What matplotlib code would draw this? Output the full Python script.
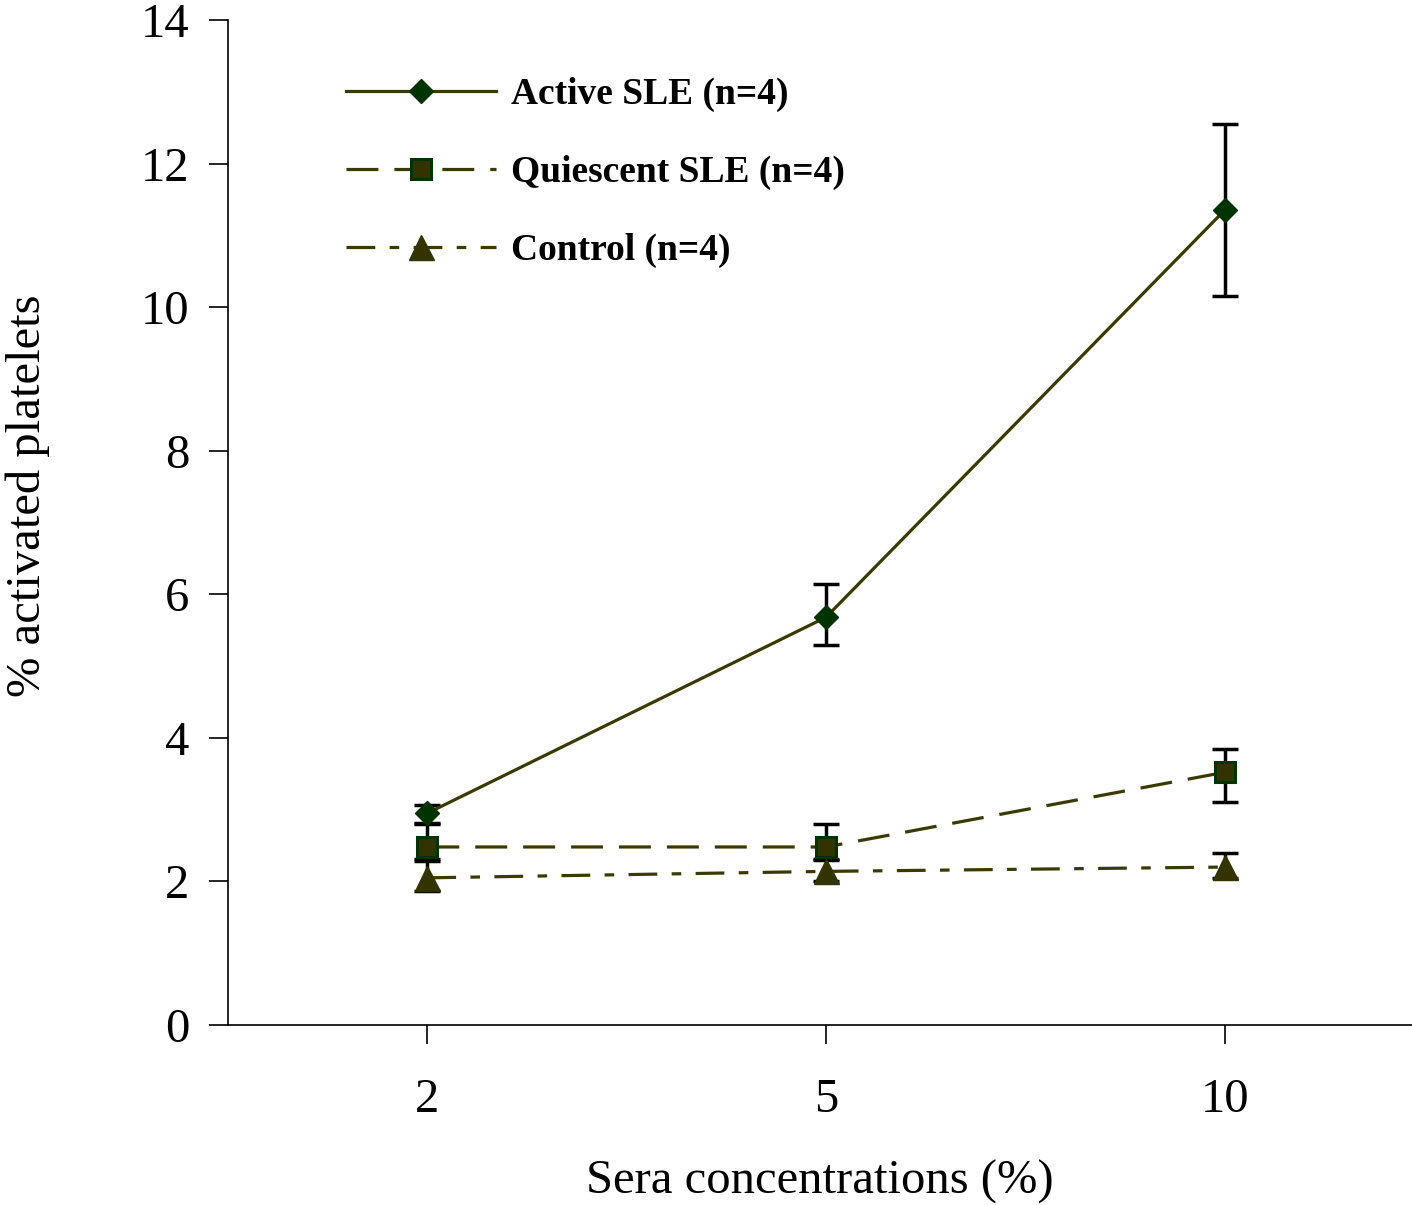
#importacion de librerias

import matplotlib.pyplot as plt
from matplotlib.lines import Line2D

#Datos

concentraciones = ["2", "5", "10"]
posiciones = [1, 2, 3]

activo = [2.95, 5.68, 11.35]
activo_err_inf = [0.13, 0.39, 1.2]
activo_err_sup = [0.12, 0.46, 1.2]

quiescente = [2.48, 2.48, 3.52]
quiescente_err_inf = [0.17, 0.17, 0.41]
quiescente_err_sup = [0.32, 0.32, 0.32]

control = [2.05, 2.14, 2.2]
control_err_inf = [0.18, 0.14, 0.15]
control_err_sup = [0.24, 0.16, 0.2]

etiquetas = ["Active SLE (n=4)", "Quiescent SLE (n=4)", "Control (n=4)"]

#Colores y estilos

color_linea = "#3a3a00"
verde = "#003300"
oliva = "#333300"

plt.rcParams['font.family'] = ['Liberation Serif', 'DejaVu Serif']

fig = plt.figure(figsize=(14.12, 12.05), dpi=100)
ax = fig.add_axes([228 / 1412, 180 / 1205, 1 - 228 / 1412, 1005 / 1205])

#Barras de error (debajo de los marcadores)
ax.errorbar(posiciones, activo, yerr=[activo_err_inf, activo_err_sup], fmt='none',
            ecolor='black', elinewidth=2.5, capsize=9.5, capthick=2.5, zorder=2)
ax.errorbar(posiciones, quiescente, yerr=[quiescente_err_inf, quiescente_err_sup], fmt='none',
            ecolor='black', elinewidth=2.5, capsize=9.5, capthick=2.5, zorder=2)
ax.errorbar(posiciones, control, yerr=[control_err_inf, control_err_sup], fmt='none',
            ecolor='black', elinewidth=2.5, capsize=9.5, capthick=2.5, zorder=2)

#Lineas con marcadores
ax.plot(posiciones, activo, color=color_linea, linewidth=2.3, marker='D', markersize=12,
        markerfacecolor=verde, markeredgecolor=verde, zorder=3)
ax.plot(posiciones, quiescente, color=color_linea, linewidth=2.3, dashes=(10, 5), marker='s',
        markersize=15, markerfacecolor=oliva, markeredgecolor=verde, markeredgewidth=2.2, zorder=3)
ax.plot(posiciones, control, color=color_linea, linewidth=2.3, dashes=(9, 4.5, 3, 4.5), marker='^',
        markersize=18, markerfacecolor=oliva, markeredgecolor=oliva, zorder=3)

#Ejes
ax.set_xlim(0.5, 3.47)
ax.set_ylim(0, 14)
ax.set_yticks(range(0, 15, 2))
ax.set_xticks(posiciones)
ax.set_xticklabels(concentraciones)
ax.spines['top'].set_visible(False)
ax.spines['right'].set_visible(False)
ax.spines['left'].set_linewidth(1.2)
ax.spines['bottom'].set_linewidth(1.2)
ax.tick_params(axis='both', direction='out', length=14, width=1.2, labelsize=35, colors='black')
ax.tick_params(axis='x', pad=24)
ax.tick_params(axis='y', pad=14)

ax.set_xlabel("Sera concentrations (%)", fontsize=35)
ax.set_ylabel("% activated platelets", fontsize=35)
ax.xaxis.set_label_coords(0.5, -0.134)
ax.yaxis.set_label_coords(-0.150, 0.527)

#Leyenda
manejadores = [
    Line2D([], [], color=color_linea, linewidth=2.3, marker='D', markersize=12,
           markerfacecolor=verde, markeredgecolor=verde),
    Line2D([], [], color=color_linea, linewidth=2.3, dashes=(10, 5), marker='s', markersize=15,
           markerfacecolor=oliva, markeredgecolor=verde, markeredgewidth=2.2),
    Line2D([], [], color=color_linea, linewidth=2.3, dashes=(9, 4.5, 3, 4.5), marker='^',
           markersize=18, markerfacecolor=oliva, markeredgecolor=oliva),
]
ax.legend(manejadores, etiquetas, loc='upper left', bbox_to_anchor=(0.087, 0.958), frameon=False,
          prop={'weight': 'bold', 'size': 27}, handlelength=4.0, handletextpad=0.4,
          labelspacing=1.14, borderaxespad=0)

#Letra del panel (cortada arriba, como en el original)
fig.text(0.0, 1.0 - 4 / 1205, "A", fontsize=36, va='bottom', ha='left')

fig.savefig("out.png", dpi=100)
